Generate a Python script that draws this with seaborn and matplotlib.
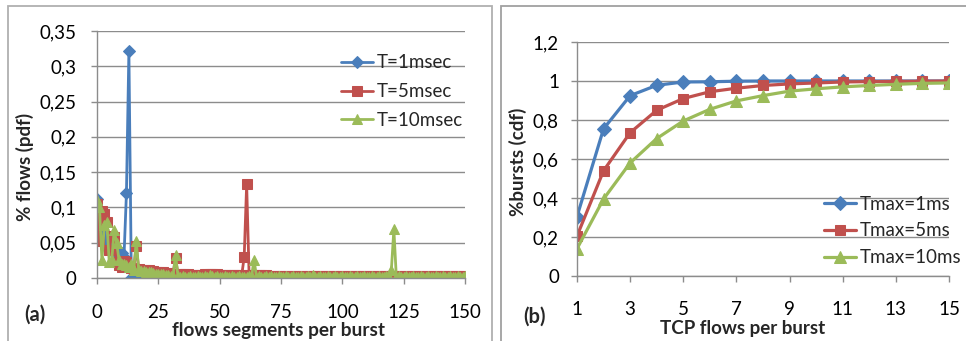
import matplotlib
matplotlib.use('Agg')
import matplotlib.pyplot as plt
import seaborn as sns
from matplotlib.patches import Rectangle

# ---------------- data: panel (a) ----------------
segments = list(range(0, 151))

pdf_t1 = [0.112, 0.095, 0.070, 0.075, 0.045, 0.040, 0.040, 0.035, 0.040, 0.030,
          0.035, 0.030, 0.120, 0.322, 0.000, 0.000, 0.000, 0.000, 0.000, 0.000,
          0.000, 0.000, 0.000, 0.000, 0.000, 0.000, 0.000, 0.000, 0.000, 0.000,
          0.000, 0.000, 0.000, 0.000, 0.000, 0.000, 0.000, 0.000, 0.000, 0.000,
          0.000, 0.000, 0.000, 0.000, 0.000, 0.000, 0.000, 0.000, 0.000, 0.000,
          0.000, 0.000, 0.000, 0.000, 0.000, 0.000, 0.000, 0.000, 0.000]

pdf_t5 = [0.105, 0.052, 0.095, 0.090, 0.080, 0.040, 0.060, 0.058, 0.022, 0.018,
          0.016, 0.024, 0.022, 0.016, 0.014, 0.013, 0.045, 0.013, 0.012, 0.012,
          0.011, 0.011, 0.010, 0.010, 0.009, 0.009, 0.008, 0.008, 0.007, 0.007,
          0.006, 0.006, 0.028, 0.006, 0.005, 0.005, 0.005, 0.005, 0.004, 0.004,
          0.004, 0.004, 0.004, 0.004, 0.005, 0.005, 0.006, 0.006, 0.006, 0.005,
          0.004, 0.004, 0.004, 0.004, 0.004, 0.004, 0.004, 0.004, 0.004, 0.004,
          0.030, 0.133, 0.004, 0.004, 0.004, 0.004, 0.004, 0.004, 0.004, 0.004,
          0.003, 0.003, 0.003, 0.003, 0.003, 0.003, 0.003, 0.003, 0.003, 0.003,
          0.003, 0.003, 0.003, 0.003, 0.003, 0.003, 0.003, 0.003, 0.003, 0.003,
          0.003, 0.003, 0.003, 0.003, 0.003, 0.003, 0.003, 0.003, 0.003, 0.003,
          0.003, 0.003, 0.003, 0.003, 0.003, 0.003, 0.003, 0.003, 0.003, 0.003,
          0.003, 0.003, 0.003, 0.003, 0.003, 0.003, 0.003, 0.003, 0.003, 0.003,
          0.003, 0.003, 0.003, 0.003, 0.003, 0.003, 0.003, 0.003, 0.003, 0.003,
          0.003, 0.003, 0.003, 0.003, 0.003, 0.003, 0.003, 0.003, 0.003, 0.003,
          0.003, 0.003, 0.003, 0.003, 0.003, 0.003, 0.003, 0.003, 0.003, 0.003,
          0.003]

pdf_t10 = [0.110, 0.100, 0.025, 0.075, 0.080, 0.022, 0.025, 0.068, 0.050, 0.025,
           0.020, 0.020, 0.018, 0.016, 0.020, 0.012, 0.053, 0.011, 0.010, 0.010,
           0.009, 0.008, 0.008, 0.007, 0.006, 0.006, 0.005, 0.005, 0.004, 0.004,
           0.003, 0.003, 0.033, 0.003, 0.002, 0.003, 0.002, 0.002, 0.003, 0.002,
           0.002, 0.003, 0.002, 0.002, 0.003, 0.002, 0.004, 0.003, 0.002, 0.003,
           0.002, 0.002, 0.003, 0.002, 0.002, 0.003, 0.002, 0.002, 0.003, 0.002,
           0.002, 0.002, 0.003, 0.002, 0.026, 0.002, 0.003, 0.002, 0.002, 0.003,
           0.002, 0.003, 0.002, 0.002, 0.003, 0.002, 0.002, 0.003, 0.002, 0.002,
           0.003, 0.002, 0.002, 0.003, 0.002, 0.002, 0.003, 0.002, 0.004, 0.002,
           0.002, 0.003, 0.002, 0.002, 0.003, 0.002, 0.002, 0.003, 0.002, 0.002,
           0.003, 0.002, 0.002, 0.003, 0.002, 0.002, 0.003, 0.002, 0.002, 0.003,
           0.002, 0.002, 0.003, 0.002, 0.002, 0.003, 0.002, 0.002, 0.003, 0.002,
           0.012, 0.069, 0.002, 0.003, 0.002, 0.002, 0.003, 0.002, 0.002, 0.003,
           0.002, 0.002, 0.003, 0.002, 0.002, 0.003, 0.002, 0.002, 0.003, 0.002,
           0.002, 0.003, 0.002, 0.002, 0.003, 0.002, 0.002, 0.003, 0.002, 0.002,
           0.003]

labels_a = ['T=1msec', 'T=5msec', 'T=10msec']
xticks_a = [0, 25, 50, 75, 100, 125, 150]
yticks_a = [0, 0.05, 0.10, 0.15, 0.20, 0.25, 0.30, 0.35]
ytick_labels_a = ['0', '0,05', '0,1', '0,15', '0,2', '0,25', '0,3', '0,35']

# ---------------- data: panel (b) ----------------
flows = [1, 2, 3, 4, 5, 6, 7, 8, 9, 10, 11, 12, 13, 14, 15]
cdf_1ms = [0.305, 0.755, 0.925, 0.978, 0.995, 0.996, 0.999, 1.000, 1.000, 1.000,
           1.000, 1.000, 1.000, 1.000, 1.000]
cdf_5ms = [0.205, 0.540, 0.735, 0.850, 0.910, 0.945, 0.963, 0.977, 0.985, 0.990,
           0.995, 0.997, 0.998, 0.999, 1.000]
cdf_10ms = [0.140, 0.395, 0.580, 0.705, 0.795, 0.855, 0.898, 0.925, 0.948, 0.960,
            0.970, 0.977, 0.983, 0.988, 0.990]
labels_b = ['Tmax=1ms', 'Tmax=5ms', 'Tmax=10ms']
xticks_b = [1, 3, 5, 7, 9, 11, 13, 15]
yticks_b = [0, 0.2, 0.4, 0.6, 0.8, 1.0, 1.2]
ytick_labels_b = ['0', '0,2', '0,4', '0,6', '0,8', '1', '1,2']

colors = ['#4A7EBB', '#C0504D', '#9BBB59']
markers = ['D', 's', '^']
GRID = '#8c8c8c'

sns.set_style('white')
plt.rcParams['font.family'] = ['Lato', 'DejaVu Sans']

W, H = 966, 341
fig = plt.figure(figsize=(W / 100, H / 100), dpi=100)

# panel frames
fig.patches.append(Rectangle((8 / W, -0.05), (492 - 8) / W, 1.05 - 6 / H,
                             transform=fig.transFigure, fill=False,
                             edgecolor='#b0b0b0', lw=1.3))
fig.patches.append(Rectangle((501 / W, -0.05), 0.6, 1.05 - 6 / H,
                             transform=fig.transFigure, fill=False,
                             edgecolor='#a0a0a0', lw=1.3))

axA = fig.add_axes([97 / W, 1 - 278 / H, 368 / W, 247 / H])
axB = fig.add_axes([577 / W, 1 - 276 / H, 372 / W, 234 / H])

# panel (a)
series_a = [(segments[:len(pdf_t1)], pdf_t1), (segments, pdf_t5), (segments, pdf_t10)]
msz_a = [6.5, 7.5, 7.0]
for (xs, ys), lab, c, m, ms in zip(series_a, labels_a, colors, markers, msz_a):
    sns.lineplot(x=xs, y=ys, ax=axA, color=c, marker=m, markersize=ms,
                 markeredgecolor=c, linewidth=2.0, label=lab, legend=False)

# panel (b)
series_b = [cdf_1ms, cdf_5ms, cdf_10ms]
msz_b = [7, 7.5, 8]
for ys, lab, c, m, ms in zip(series_b, labels_b, colors, markers, msz_b):
    sns.lineplot(x=flows, y=ys, ax=axB, color=c, marker=m, markersize=ms,
                 markeredgecolor=c, linewidth=2.3, label=lab, legend=False)

def style(ax, xlim, ylim, xt, yt, ytl, xpad, ypad):
    ax.set_xlim(*xlim)
    ax.set_ylim(*ylim)
    ax.set_xticks(xt)
    ax.set_xticklabels([str(v) for v in xt])
    ax.set_yticks(yt)
    ax.set_yticklabels(ytl)
    ax.yaxis.grid(True, color=GRID, lw=1.0)
    ax.xaxis.grid(False)
    ax.set_axisbelow(True)
    for s in ['top', 'right']:
        ax.spines[s].set_visible(False)
    for s in ['left', 'bottom']:
        ax.spines[s].set_color(GRID)
        ax.spines[s].set_linewidth(1.0)
    ax.tick_params(axis='x', bottom=True, direction='out', length=4, width=1,
                   color=GRID, pad=xpad, labelsize=13.5, labelcolor='black')
    ax.tick_params(axis='y', left=True, direction='out', length=4, width=1,
                   color=GRID, pad=ypad, labelsize=13.5, labelcolor='black')

style(axA, (0, 150), (0, 0.35), xticks_a, yticks_a, ytick_labels_a, 14.5, 11)
style(axB, (1, 15), (0, 1.2), xticks_b, yticks_b, ytick_labels_b, 14, 9)

axA.set_xlabel('flows segments per burst', fontsize=13.7, fontweight='bold', va='top')
axA.xaxis.set_label_coords(0.493, -0.18)
axA.set_ylabel('% flows (pdf)', fontsize=13.5, fontweight='bold', va='center')
axA.yaxis.set_label_coords(-0.196, 0.449)

axB.set_xlabel('TCP flows per burst', fontsize=13.5, fontweight='bold', va='top')
axB.xaxis.set_label_coords(0.446, -0.19)
axB.set_ylabel('%bursts (cdf)', fontsize=13.5, fontweight='bold', va='center')
axB.yaxis.set_label_coords(-0.16, 0.487)

fig.text(35 / W, 1 - 315 / H, '(a)', fontsize=14.5, fontweight='bold', ha='center', va='center')
fig.text(534 / W, 1 - 317 / H, '(b)', fontsize=14.5, fontweight='bold', ha='center', va='center')

legA = axA.legend(loc='upper left', bbox_to_anchor=(0.663, 0.905), frameon=False,
                  fontsize=13.5, handlelength=1.7, handletextpad=0.2,
                  labelspacing=0.62, borderpad=0, borderaxespad=0)
legB = axB.legend(loc='upper left', bbox_to_anchor=(0.663, 0.343), frameon=False,
                  fontsize=13.5, handlelength=1.7, handletextpad=0.2,
                  labelspacing=0.52, borderpad=0, borderaxespad=0)

fig.savefig('out.png', dpi=100)
